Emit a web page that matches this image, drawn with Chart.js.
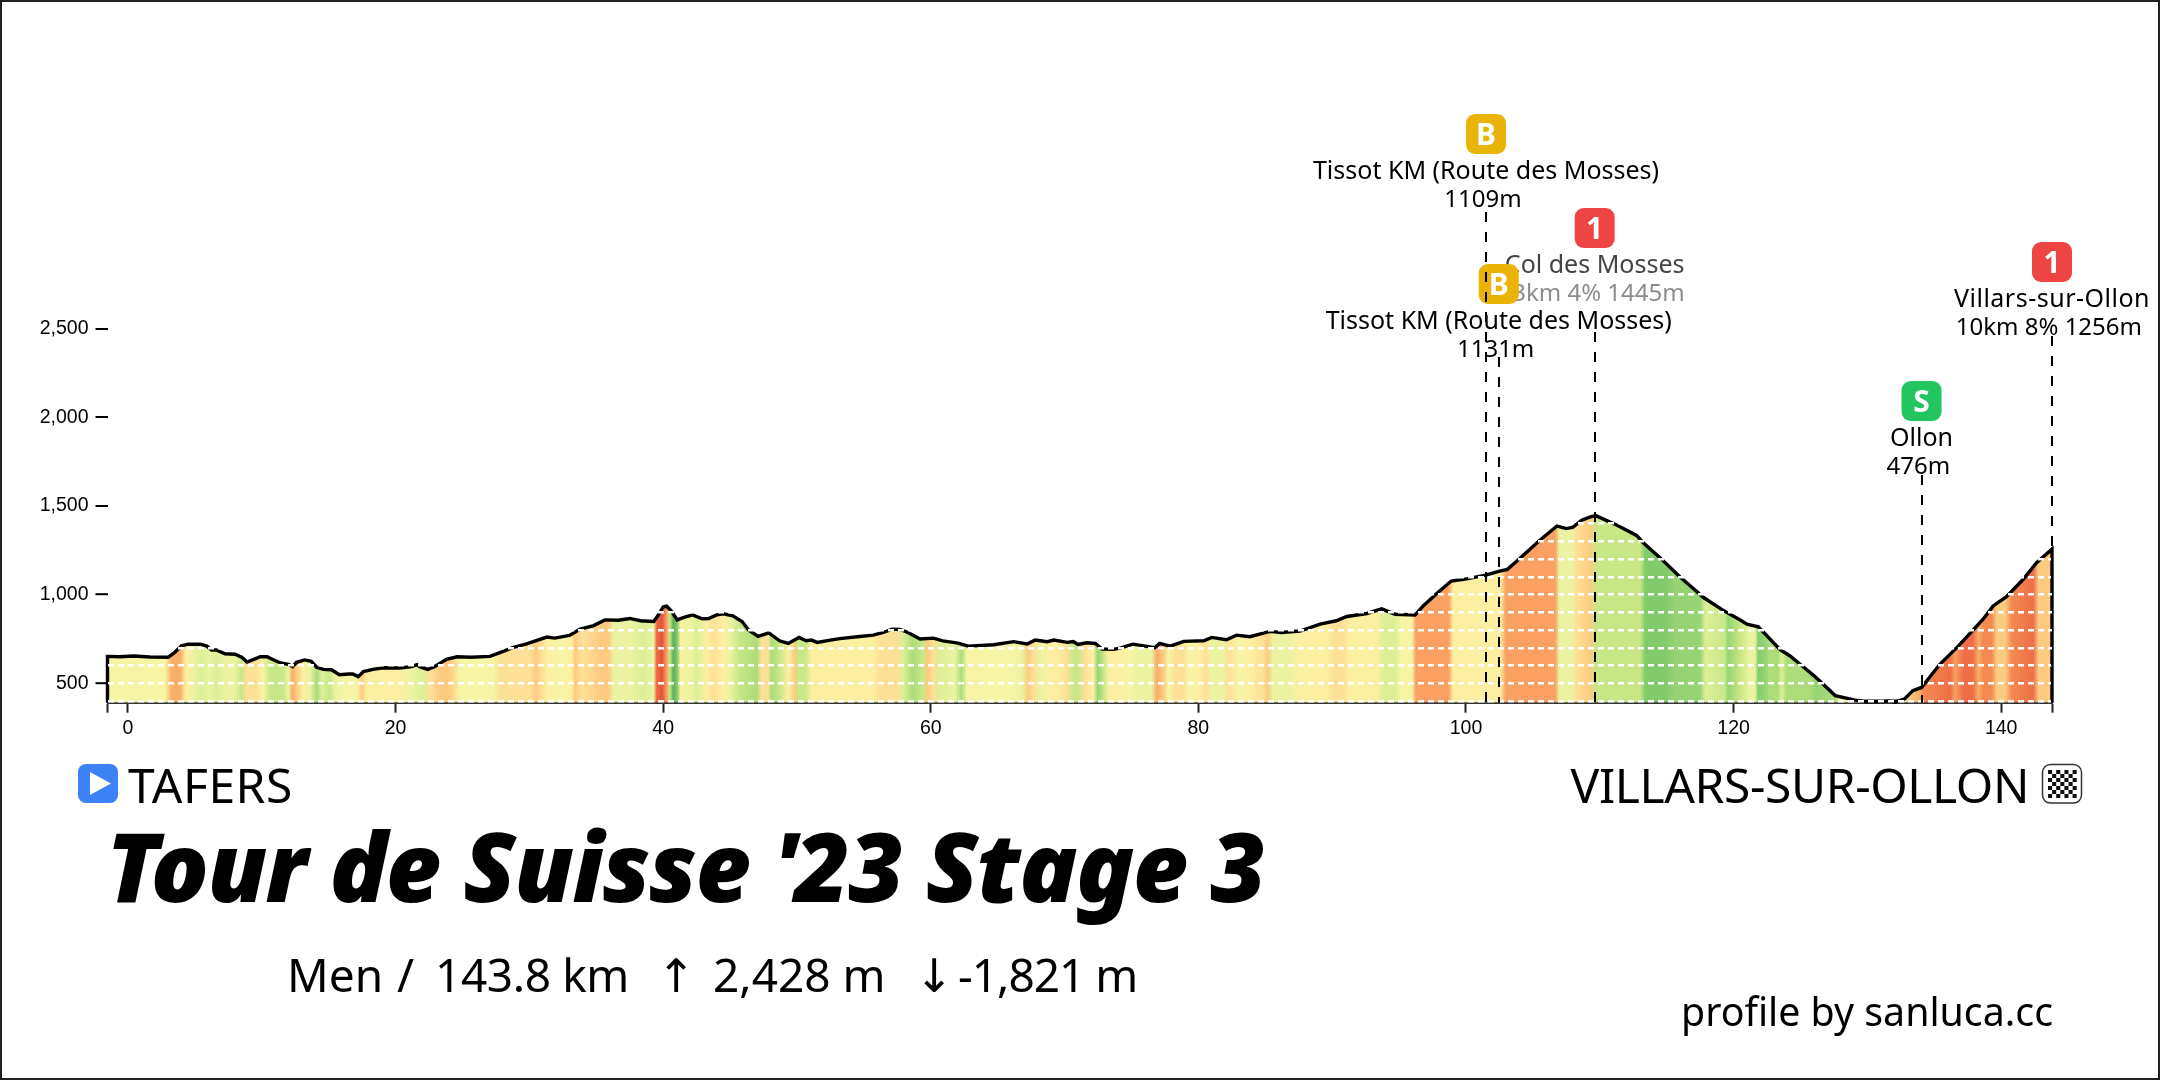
<!DOCTYPE html>
<html>
<head>
<meta charset="utf-8">
<title>Tour de Suisse '23 Stage 3</title>
<script src="https://cdn.jsdelivr.net/npm/chart.js@4"></script>
<style>
  html, body { margin: 0; padding: 0; background: #fff; }
  #wrap { position: relative; width: 2160px; height: 1080px; overflow: hidden; }
  #frame { position: absolute; inset: 0; border: 2px solid #222; box-sizing: border-box; pointer-events: none; }
</style>
</head>
<body>
<div id="wrap">
  <canvas id="profileChart" width="2160" height="1080"></canvas>
  <div id="frame"></div>
</div>
<script>
/* ===== DATA ===== */
const routeKm = [
  -1.53, -1.53, -0.6, 0.4, 1.64, 3.0, 3.5, 4.0, 4.5, 5.4, 5.9, 6.25, 6.6, 7.25, 8.0, 8.5, 8.9, 9.4, 9.9, 10.4,
  10.9, 11.4, 12.0, 12.3, 12.6, 13.2, 13.7, 14.1, 14.6, 15.2, 15.8, 16.5, 16.8, 17.2, 17.6, 18.3, 19.1, 20.3,
  21.2, 21.6, 21.8, 22.4, 22.9, 23.3, 23.8, 24.6, 25.6, 27.06, 27.8, 28.8, 29.8, 31.3, 31.9, 33.0, 33.8, 34.8,
  35.65, 36.65, 37.5, 38.3, 39.3, 39.6, 40.0, 40.26, 40.6, 41.05, 41.5, 42.2, 42.9, 43.4, 44.0, 44.5, 45.2,
  45.9, 46.4, 47.1, 47.9, 48.7, 49.35, 50.15, 50.7, 51.1, 51.5, 52.5, 53.2, 54.5, 55.7, 56.45, 57.1, 57.7,
  58.3, 59.2, 60.2, 60.9, 62.05, 62.8, 64.7, 66.2, 67.2, 67.8, 68.7, 69.2, 70.2, 70.65, 71.0, 71.65, 72.3,
  72.8, 73.65, 74.15, 75.1, 76.75, 77.1, 77.9, 78.9, 80.4, 81.0, 82.1, 82.85, 83.85, 85.35, 86.2, 87.6, 89.1,
  90.3, 91.1, 92.6, 93.7, 94.7, 96.2, 96.8, 97.9, 98.9, 100.05, 101.47, 102.45, 103.1, 104.04, 105.5, 106.8,
  107.03, 107.5, 108.0, 108.65, 109.3, 109.7, 111.3, 112.75, 113.25, 114.5, 116.0, 117.25, 117.75, 119.2,
  120.5, 121.0, 121.85, 123.5, 124.2, 125.2, 126.0, 127.6, 129.0, 129.9, 131.2, 131.6, 132.05, 132.8, 133.4,
  134.05, 135.4, 136.7, 137.4, 138.65, 139.4, 140.4, 141.65, 142.65, 143.8, 143.8
];
const routeElev = [
  390, 651, 649, 653, 648, 646, 674, 711, 720, 720, 709, 687, 687, 666, 663, 646, 619, 634, 649, 649,
  631, 614, 606, 593, 618, 631, 623, 590, 578, 576, 548, 552, 552, 537, 565, 578, 587, 586,
  593, 605, 593, 578, 593, 612, 634, 649, 646, 651, 672, 702, 722, 760, 754, 769, 805, 825,
  857, 855, 865, 852, 848, 880, 930, 934, 908, 857, 870, 885, 863, 865, 885, 891, 880,
  848, 799, 764, 784, 739, 724, 758, 739, 743, 730, 743, 751, 762, 771, 786, 805, 803,
  786, 749, 754, 739, 726, 709, 717, 734, 721, 743, 734, 743, 730, 735, 718, 728, 724,
  692, 691, 698, 720, 700, 724, 709, 736, 739, 758, 745, 771, 762, 792, 786, 794, 833,
  852, 876, 893, 919, 889, 885, 936, 1011, 1076, 1088, 1109, 1131, 1142, 1204, 1305, 1386,
  1382, 1372, 1380, 1419, 1438, 1445, 1391, 1333, 1292, 1208, 1099, 1017, 983, 912,
  856, 833, 818, 687, 655, 593, 543, 430, 406, 395, 396, 400, 393, 412, 458,
  476, 605, 702, 758, 861, 936, 988, 1086, 1179, 1256, 390
];
const floorKm = [-1.53, 143.8];
const floorElev = [400, 400];

// gradient bands: km and grade class
const bandKm = [
  -1.53, 2.77, 3.26, 3.9, 4.33, 5.0, 5.5, 6.1, 6.6, 7.25, 8.0, 8.5, 8.85, 9.6, 10.1, 10.6, 11.6, 12.0, 12.3, 12.6,
  13.1, 13.6, 14.1, 14.5, 15.1, 15.5, 16.3, 17.1, 17.5, 17.8, 20.3, 21.3, 22.1, 22.6, 23.3, 24.07, 24.8, 25.8,
  27.3, 27.8, 30.0, 30.5, 31.3, 32.5, 33.16, 33.4, 34.0, 35.3, 35.9, 36.3, 37.5, 38.5, 39.3, 39.5, 39.9, 40.26,
  40.5, 40.76, 41.05, 41.3, 42.1, 42.5, 43.25, 43.75, 44.5, 45.0, 45.7, 47.0, 47.35, 47.85, 48.1, 48.7, 49.35,
  49.85, 50.1, 50.6, 51.1, 52.2, 55.7, 56.2, 57.45, 57.95, 58.6, 59.4, 59.8, 60.2, 60.6, 61.8, 62.3, 62.7, 66.2,
  66.8, 67.3, 67.7, 68.2, 68.9, 69.4, 70.15, 70.65, 71.0, 71.5, 72.15, 72.5, 72.9, 73.3, 74.15, 74.9, 75.4, 76.5,
  76.9, 77.4, 77.75, 78.25, 78.9, 79.25, 80.1, 80.5, 81.0, 81.9, 82.2, 83.1, 83.85, 84.85, 85.2, 85.6, 86.85,
  87.6, 89.6, 90.1, 90.8, 91.3, 93.3, 93.9, 94.7, 95.2, 95.95, 96.27, 98.7, 99.05, 102.55, 103.0, 106.65, 107.0,
  107.9, 108.27, 109.27, 109.77, 113.0, 113.4, 115.0, 115.6, 117.5, 117.9, 119.35, 119.6, 120.5, 121.2, 121.6, 121.85, 122.35,
  122.7, 123.3, 123.6, 124.0, 125.7, 126.2, 127.6, 127.95, 132.7, 133.05, 133.9, 134.2, 136.2, 136.55, 137.2,
  137.9, 138.3, 138.65, 139.3, 139.65, 140.3, 140.8, 142.4, 142.8, 143.8
];
const bandGrade = [
  0, 0, 4, 4, 1, -1, -2, -1, -2, -1, -1, -3, 2, 2, 0, -3, -3, -1, 4, 3,
  1, -1, -4, -2, -3, -1, 0, 0, 3, 1, 1, -1, -2, 2, 3, 3, 0, 0,
  0, 2, 2, 3, 1, 0, 1, 3, 2, 3, 3, -1, -1, -2, -1, 7, 8, 5,
  -3, -8, -6, 1, -1, -2, 1, 2, 1, -1, -3, -4, 2, 2, -4, -3, 1,
  3, -3, -3, 1, 1, 1, 2, 2, -2, -4, -3, 3, 2, -2, -1, -4, 0, 0,
  -1, 3, 2, -1, 1, 1, 2, -3, -3, 2, 1, -5, -3, 1, 1, 0, -1, -1,
  4, 3, 0, 2, 2, 0, 1, 2, -1, -1, 2, 0, 1, 2, 3, -1, -1,
  1, 1, 2, 2, 1, 1, -2, -2, 0, 0, 5, 5, 1, 1, 5, 5, -1,
  -1, 2, 3, -3, -3, -6, -6, -5, -5, -2, -3, -5, -3, -1, -1, -6, -5,
  -4, -4, -2, -4, -4, -5, -4, 0, 0, 3, 4, 6, 7, 5, 7,
  7, 4, 6, 6, 3, 3, 6, 7, 3, 3
];

const axisKm = [0, 20, 40, 60, 80, 100, 120, 140];
const axisElev = [500, 1000, 1500, 2000, 2500];
const gridElev = [400, 500, 600, 700, 800, 900, 1000, 1100, 1200, 1300, 1400, 1500, 2000, 2500];

const markerKm = [101.5, 109.62, 102.45, 143.8, 134.05];
const markerBadge = ["B", "1", "B", "1", "S"];
const markerName = ["Tissot KM (Route des Mosses)", "Col des Mosses", "Tissot KM (Route des Mosses)", "Villars-sur-Ollon", "Ollon"];
const markerInfo = ["1109m ", "13km 4% 1445m ", "1131m ", "10km 8% 1256m ", "476m "];

/* ===== STYLE LOOKUPS ===== */
const gradeColors = {
  "-8": "#5cae5c", "-7": "#6bbb60", "-6": "#82cb6c", "-5": "#96d374", "-4": "#acdc7a", "-3": "#c8e786", "-2": "#dcef96", "-1": "#ebf3a2",
  "0": "#f6f5a6", "1": "#fcefa2", "2": "#fde098", "3": "#fccb80", "4": "#faad68", "5": "#f9a062", "6": "#f48a52", "7": "#ee6f47", "8": "#e5503a"
};
const badgeColors = { B: "#eab308", S: "#22c55e", "1": "#ef4444" };
// where each marker's label block sits on the page (top of the leader, text tone)
const leaderTop = [212, 332, 357, 336, 475];
const badgeTop = [114, 208, 264, 242, 381];
const nameTone = ["#000", "#444", "#000", "#000", "#000"];
const infoTone = ["#000", "#8c8c8c", "#000", "#000", "#000"];
const nameSpacing = ["0px", "0px", "0px", "0.5px", "0px"];
const drawOrder = [1, 2, 0, 3, 4];
const LABEL_FONT = '"Noto Sans", sans-serif';

function bandGradient(context) {
  const { chart } = context;
  const xScale = chart.scales.x;
  if (!chart.chartArea || !xScale) return "#f6f5a6";
  const span = xScale.right - xScale.left;
  const grad = chart.ctx.createLinearGradient(xScale.left, 0, xScale.right, 0);
  bandKm.forEach((km, i) => {
    const stop = (xScale.getPixelForValue(km) - xScale.left) / span;
    grad.addColorStop(Math.min(1, Math.max(0, stop)), gradeColors[bandGrade[i]]);
  });
  return grad;
}

function roundBox(ctx, x, y, w, h, r) {
  ctx.beginPath();
  ctx.roundRect(x, y, w, h, r);
}

function label(ctx, text, x, y, font, color, align, spacing) {
  ctx.font = font;
  ctx.fillStyle = color;
  ctx.textAlign = align || "left";
  ctx.textBaseline = "alphabetic";
  ctx.letterSpacing = spacing || "0px";
  ctx.fillText(text, x, y);
  ctx.letterSpacing = "0px";
}

/* ===== MARKERS (climbs, sprints) ===== */
const markerPlugin = {
  id: "markers",
  afterDraw(chart) {
    const { ctx } = chart;
    const xScale = chart.scales.x;
    const yScale = chart.scales.y;
    ctx.save();
    drawOrder.forEach((i) => {
      const px = xScale.getPixelForValue(markerKm[i]);
      const top = badgeTop[i];
      roundBox(ctx, px - 20, top, 40, 40, 9);
      ctx.fillStyle = badgeColors[markerBadge[i]];
      ctx.fill();
      label(ctx, markerBadge[i], px, top + 31, '700 30px ' + LABEL_FONT, "#fff", "center");
      label(ctx, markerName[i], px, top + 65, '25px ' + LABEL_FONT, nameTone[i], "center", nameSpacing[i]);
      label(ctx, markerInfo[i], px, top + 93, '24px ' + LABEL_FONT, infoTone[i], "center");
    });
    ctx.strokeStyle = "#000";
    ctx.lineWidth = 2;
    ctx.setLineDash([10, 10]);
    markerKm.forEach((km, i) => {
      const px = Math.round(xScale.getPixelForValue(km));
      ctx.beginPath();
      ctx.moveTo(px, leaderTop[i]);
      ctx.lineTo(px, yScale.bottom);
      ctx.stroke();
    });
    ctx.setLineDash([]);
    ctx.restore();
  },
};

/* ===== TITLE BLOCK ===== */
const titlePlugin = {
  id: "titleBlock",
  afterDraw(chart) {
    const { ctx } = chart;
    ctx.save();
    // start flag
    roundBox(ctx, 78, 764, 40, 39, 8);
    ctx.fillStyle = "#3b82f6";
    ctx.fill();
    ctx.beginPath();
    ctx.moveTo(90, 772);
    ctx.lineTo(111, 783.5);
    ctx.lineTo(90, 795);
    ctx.closePath();
    ctx.fillStyle = "#fff";
    ctx.fill();
    label(ctx, "TAFERS", 128, 803, '48px ' + LABEL_FONT, "#000", "left", "0.5px");

    label(ctx, "VILLARS-SUR-OLLON", 2029, 803, '48px ' + LABEL_FONT, "#000", "right", "-0.4px");
    // finish flag
    roundBox(ctx, 2042.5, 764.5, 39, 38.5, 8);
    ctx.fillStyle = "#fff";
    ctx.fill();
    ctx.strokeStyle = "#333";
    ctx.lineWidth = 1.5;
    ctx.stroke();
    ctx.fillStyle = "#111";
    for (let row = 0; row < 7; row++) {
      for (let col = 0; col < 7; col++) {
        if ((row + col) % 2 === 0) ctx.fillRect(2048 + col * 4.1, 770 + row * 4, 4.1, 4);
      }
    }

    label(ctx, "Tour de Suisse '23 Stage 3", 106, 902, 'italic 900 96px ' + LABEL_FONT, "#000", "left", "-1.55px");

    const subFont = '46px ' + LABEL_FONT;
    const arrowFont = '46px "DejaVu Sans"';
    label(ctx, "Men", 287, 992, subFont, "#000");
    label(ctx, "/", 397, 992, subFont, "#000");
    label(ctx, "143.8 km", 435, 992, subFont, "#000", "left", "-0.4px");
    label(ctx, "\u2191", 657, 992, arrowFont, "#000");
    label(ctx, "2,428 m", 713, 992, subFont, "#000");
    label(ctx, "\u2193", 915, 992, arrowFont, "#000");
    label(ctx, "-1,821 m", 958, 992, subFont, "#000", "left", "-1px");

    label(ctx, "profile by sanluca.cc", 2053, 1026, '39.3px ' + LABEL_FONT, "#000", "right");
    ctx.restore();
  },
};

/* ===== PROFILE CHART ===== */
const profileCtx = document.getElementById("profileChart");

new Chart(profileCtx, {
  type: "line",
  data: {
    datasets: [
      {
        label: "Elevation",
        data: routeKm.map((km, i) => ({ x: km, y: routeElev[i] })),
        borderColor: "#000",
        borderWidth: 3.4,
        backgroundColor: bandGradient,
        fill: "start",
        pointRadius: 0,
        tension: 0,
        clip: false,
      },
      {
        label: "Floor",
        data: floorKm.map((km, i) => ({ x: km, y: floorElev[i] })),
        borderColor: "#000",
        borderWidth: 3,
        fill: false,
        pointRadius: 0,
        clip: false,
      },
    ],
  },
  options: {
    responsive: false,
    animation: false,
    devicePixelRatio: 1,
    layout: { padding: { top: 328.5, right: 108, left: 0, bottom: 0 } },
    plugins: {
      legend: { display: false },
      title: { display: false },
      tooltip: { enabled: false },
    },
    scales: {
      x: {
        type: "linear",
        min: -1.53,
        max: 143.8,
        afterFit: (scale) => { scale.height = 377.3; },
        afterBuildTicks: (scale) => {
          scale.ticks = [scale.min, ...axisKm, scale.max].map((value) => ({ value }));
        },
        border: { color: "#333", width: 2 },
        grid: { drawOnChartArea: false, tickLength: 10, tickWidth: 2, tickColor: "#222" },
        ticks: {
          autoSkip: false,
          maxRotation: 0,
          padding: 4,
          color: "#000",
          font: { family: '"Liberation Sans"', size: 19.5 },
          callback: (value) => (axisKm.includes(value) ? String(value) : ""),
        },
      },
      y: {
        min: 390,
        max: 2500,
        afterFit: (scale) => { scale.width = 107.5; },
        afterBuildTicks: (scale) => {
          scale.ticks = gridElev.map((value) => ({ value }));
        },
        border: { display: false, dash: [6, 4] },
        grid: {
          z: 1,
          color: "#fff",
          lineWidth: (ctx) => (ctx.tick && ctx.tick.value <= 1400 ? 2.4 : 0),
          tickLength: 12,
          tickColor: "#000",
          tickWidth: (ctx) => (ctx.tick && axisElev.includes(ctx.tick.value) ? 2 : 0),
        },
        ticks: {
          autoSkip: false,
          padding: 7,
          color: "#000",
          font: { family: '"Liberation Sans"', size: 19.5 },
          callback: (value) => (axisElev.includes(value) ? value.toLocaleString("en-US") : ""),
        },
      },
    },
  },
  plugins: [titlePlugin, markerPlugin],
});
</script>
</body>
</html>
